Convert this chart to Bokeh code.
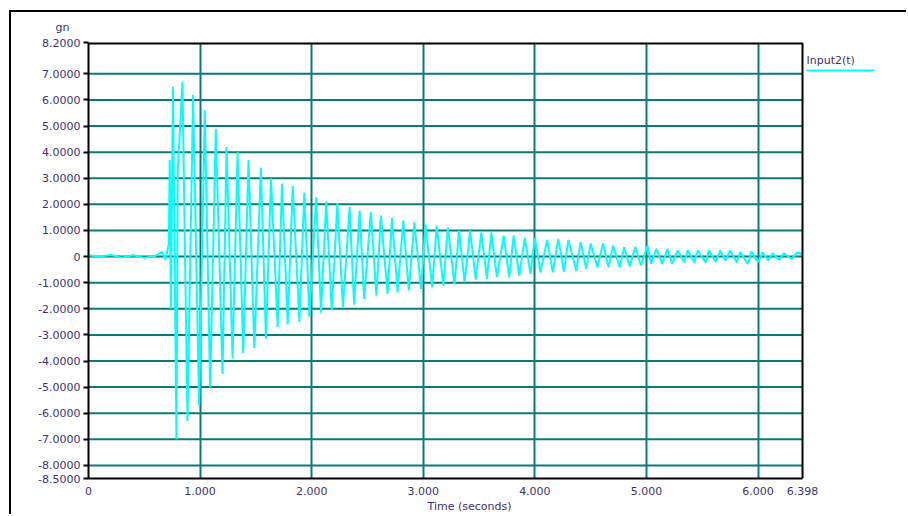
from bokeh.plotting import figure
from bokeh.models import FixedTicker, Span, Title
from bokeh.core.properties import value
from bokeh.embed import file_html
from bokeh.resources import INLINE

# ---- data ----
t_vals = [0.0, 0.1, 0.2, 0.3, 0.4, 0.5, 0.6, 0.66, 0.69, 0.72, 0.728, 0.738,
          0.757, 0.788, 0.80, 0.842, 0.887, 0.937, 0.991, 1.042, 1.09, 1.141, 1.201,
          1.237, 1.291, 1.336, 1.387, 1.434, 1.486, 1.545, 1.59, 1.635, 1.695,
          1.734, 1.785, 1.83, 1.89, 1.934, 1.98, 2.04, 2.084, 2.13, 2.18, 2.23,
          2.28, 2.34, 2.38, 2.43, 2.47, 2.53, 2.58, 2.62, 2.68, 2.72, 2.77, 2.82,
          2.87, 2.92, 2.98, 3.02, 3.08, 3.12, 3.18, 3.22, 3.28, 3.32, 3.37, 3.42,
          3.47, 3.52, 3.57, 3.61, 3.66, 3.72, 3.77, 3.81, 3.86, 3.91, 3.96, 4.0,
          4.05, 4.11, 4.16, 4.21, 4.26, 4.3, 4.37, 4.41, 4.46, 4.5, 4.56, 4.61,
          4.66, 4.7, 4.76, 4.8, 4.85, 4.9, 4.95, 5.01, 5.04, 5.09, 5.14, 5.19,
          5.23, 5.28, 5.34, 5.37, 5.43, 5.46, 5.53, 5.56, 5.62, 5.66, 5.71, 5.75,
          5.81, 5.84, 5.91, 5.94, 6.0, 6.04, 6.09, 6.13, 6.19, 6.23, 6.3, 6.35, 6.398]
input2_vals = [0.05, 0.0, 0.06, -0.04, 0.05, -0.05, 0.03, 0.18, -0.12, 0.5, 3.7, -2.0,
               6.5, -7.0, 3.3, 6.7, -6.3, 6.2, -5.7, 5.6, -5.0, 4.9, -4.5,
               4.2, -3.9, 4.0, -3.7, 3.7, -3.5, 3.4, -3.15, 3.0, -2.7,
               2.8, -2.6, 2.7, -2.5, 2.45, -2.3, 2.27, -2.15, 2.12, -2.05, 2.05,
               -1.94, 1.9, -1.84, 1.76, -1.62, 1.7, -1.5, 1.57, -1.43, 1.48, -1.37, 1.38,
               -1.3, 1.31, -1.24, 1.23, -1.18, 1.19, -1.11, 1.12, -1.07, 1.0, -0.98, 1.0,
               -0.88, 0.93, -0.85, 0.93, -0.79, 0.8, -0.79, 0.8, -0.73, 0.72, -0.66, 0.72,
               -0.6, 0.64, -0.6, 0.68, -0.58, 0.64, -0.54, 0.55, -0.47, 0.5, -0.41, 0.5,
               -0.41, 0.42, -0.41, 0.36, -0.38, 0.38, -0.34, 0.42, -0.28, 0.3, -0.28, 0.3,
               -0.28, 0.23, -0.22, 0.25, -0.22, 0.23, -0.22, 0.23, -0.2, 0.23, -0.15, 0.23,
               -0.22, 0.17, -0.28, 0.2, -0.22, 0.17, -0.15, 0.13, -0.13, 0.13, -0.09, 0.15, 0.1]

y_ticks = [8.2, 7, 6, 5, 4, 3, 2, 1, 0, -1, -2, -3, -4, -5, -6, -7, -8, -8.5]
y_grid_ticks = [7, 6, 5, 4, 3, 2, 1, 0, -1, -2, -3, -4, -5, -6, -7, -8]
x_ticks = [0, 1, 2, 3, 4, 5, 6, 6.398]
x_tick_labels = ["0", "1.000", "2.000", "3.000", "4.000", "5.000", "6.000", "6.398"]
x_grid_ticks = [1, 2, 3, 4, 5, 6]
y_label = "gn"
x_label = "Time (seconds)"
series_name = "Input2(t)"

X_MIN, X_MAX = 0, 6.398
Y_MIN, Y_MAX = -8.5, 8.2

FONT = "DejaVu Sans"
TXT = "#3d3270"
GRID = "#0a7a78"
CYAN = "#00ffff"

p = figure(width=906, height=514, output_backend="svg", toolbar_location=None,
           x_range=(X_MIN, 7.097), y_range=(Y_MIN, Y_MAX),
           min_border_left=88, min_border_top=42, min_border_right=26, min_border_bottom=36,
           styles={"box-shadow": "inset 9px 10px 0px 0px #ffffff, inset 11px 12px 0px 0px #000000"})

p.border_fill_alpha = 0
p.outline_line_color = None

# title used as the unit label above the y axis
p.title.text = y_label
p.title.align = "left"
p.title.offset = -33
p.title.vertical_align = "top"
p.title.text_font = FONT
p.title.text_font_size = "11px"
p.title.text_font_style = "normal"
p.title.text_color = TXT
p.title.standoff = 14

# grid: vertical lines by the grid, horizontal lines bounded to the data box
p.xgrid.ticker = FixedTicker(ticks=x_grid_ticks)
p.xgrid.grid_line_color = GRID
p.xgrid.grid_line_width = 2
p.ygrid.grid_line_color = None
p.segment(x0=[X_MIN] * len(y_grid_ticks), x1=[X_MAX] * len(y_grid_ticks),
          y0=y_grid_ticks, y1=y_grid_ticks, line_color=GRID, line_width=2)

# axes
p.xaxis.ticker = FixedTicker(ticks=x_ticks)
p.xaxis.bounds = (X_MIN, X_MAX)
p.xaxis.major_label_overrides = {t: l for t, l in zip(x_ticks, x_tick_labels)}
p.yaxis.ticker = FixedTicker(ticks=y_ticks)
p.yaxis.major_label_overrides = {t: ("0" if t == 0 else f"{t:.4f}") for t in y_ticks}
for ax in (p.xaxis, p.yaxis):
    ax.axis_line_color = "#000000"
    ax.axis_line_width = 2
    ax.minor_tick_line_color = None
    ax.major_label_text_font = FONT
    ax.major_label_text_font_size = "11px"
    ax.major_label_text_color = TXT
p.xaxis.major_tick_out = 0
p.xaxis.major_tick_in = 0
p.xaxis.major_label_standoff = 8
p.yaxis.major_tick_out = 5
p.yaxis.major_tick_in = 0
p.yaxis.major_tick_line_color = "#000000"
p.yaxis.major_tick_line_width = 2
p.yaxis.major_label_standoff = 3

# x axis title, placed under the tick labels
p.add_layout(Title(text=x_label, align="left", offset=339, standoff=0,
                   text_font=FONT, text_font_size="11px", text_font_style="normal",
                   text_color=TXT), "below")

# box top and right edges
p.line([X_MIN, X_MAX], [Y_MAX, Y_MAX], line_color="#000000", line_width=4)
p.add_layout(Span(location=X_MAX, dimension="height", line_color="#000000", line_width=2))

# signal
p.line(t_vals, input2_vals, line_color=CYAN, line_width=2)

# legend entry: name with a line under it
p.text(x=[6.434], y=[7.26], text=[series_name], text_align="left", text_baseline="bottom",
       text_font=value(FONT), text_font_size="11px", text_color=TXT)
p.segment(x0=[6.434], x1=[7.043], y0=[7.13], y1=[7.13], line_color=CYAN, line_width=2)

open("out.html", "w").write(file_html(p, INLINE))
